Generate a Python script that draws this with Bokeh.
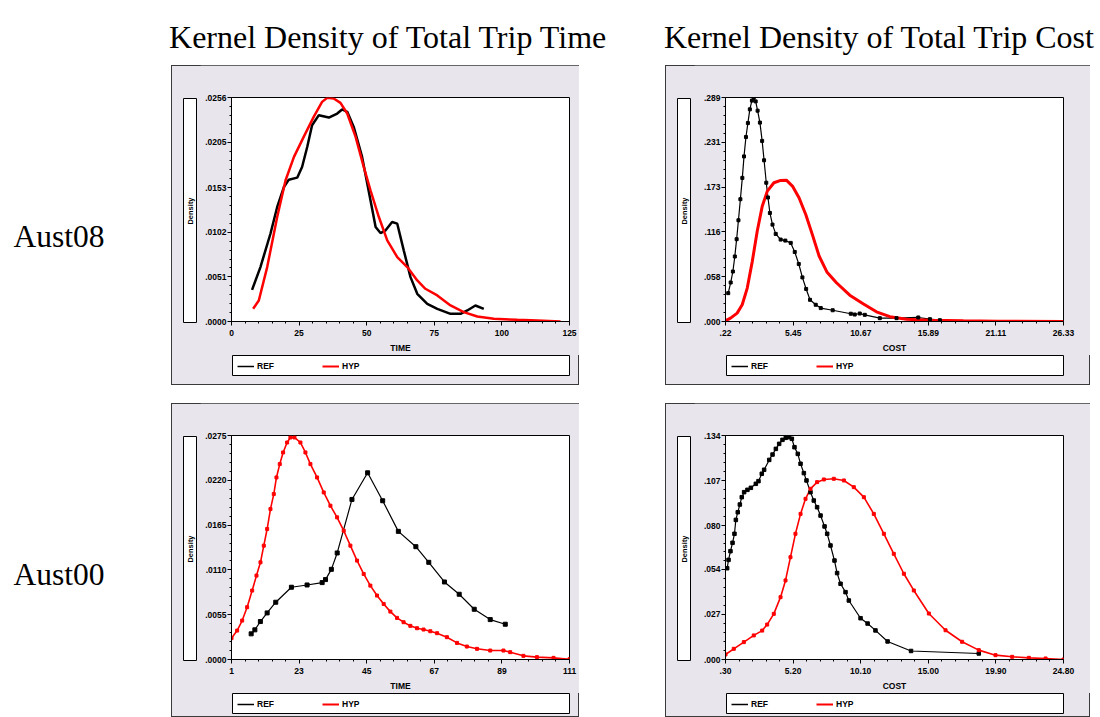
from bokeh.plotting import figure
from bokeh.models import (Range1d, FixedTicker, Label, Legend, LegendItem,
                          Spacer, CustomJSTickFormatter)
from bokeh.layouts import row, column
from bokeh.embed import file_html
from bokeh.resources import INLINE

# ---------------- texts ----------------
title_time = "Kernel Density of Total Trip Time"
title_cost = "Kernel Density of Total Trip Cost"
row_labels = ["Aust08", "Aust00"]
series_names = ["REF", "HYP"]
y_title = "Density"

# ---------------- ticks ----------------
x_ticks_08_time = [0, 25, 50, 75, 100, 125]
x_labels_08_time = ["0", "25", "50", "75", "100", "125"]
y_ticks_08_time = [0, 0.0051, 0.0102, 0.0153, 0.0205, 0.0256]
y_labels_08_time = [".0000", ".0051", ".0102", ".0153", ".0205", ".0256"]

x_ticks_08_cost = [0.22, 5.45, 10.67, 15.89, 21.11, 26.33]
x_labels_08_cost = [".22", "5.45", "10.67", "15.89", "21.11", "26.33"]
y_ticks_08_cost = [0, 0.058, 0.116, 0.173, 0.231, 0.289]
y_labels_08_cost = [".000", ".058", ".116", ".173", ".231", ".289"]

x_ticks_00_time = [1, 23, 45, 67, 89, 111]
x_labels_00_time = ["1", "23", "45", "67", "89", "111"]
y_ticks_00_time = [0, 0.0055, 0.0110, 0.0165, 0.0220, 0.0275]
y_labels_00_time = [".0000", ".0055", ".0110", ".0165", ".0220", ".0275"]

x_ticks_00_cost = [0.30, 5.20, 10.10, 15.00, 19.90, 24.80]
x_labels_00_cost = [".30", "5.20", "10.10", "15.00", "19.90", "24.80"]
y_ticks_00_cost = [0, 0.027, 0.054, 0.080, 0.107, 0.134]
y_labels_00_cost = [".000", ".027", ".054", ".080", ".107", ".134"]

# ---------------- series ----------------
ref08_time_x = [7.6, 10.7, 14.4, 16.9, 19.4, 21.2, 24.3, 26.1, 28.0, 29.8, 32.3, 36.0, 39.1,
                40.9, 42.8, 45.2, 48.3, 51.4, 53.3, 55.1, 57.0, 59.4, 61.3, 63.7, 66.2, 68.7,
                72.4, 76.1, 81.0, 84.7, 87.2, 90.2, 93.3]
ref08_time_y = [.00362, .00622, .01003, .01309, .01537, .01621, .01644, .01766, .01995, .02243,
                .02358, .02331, .02377, .02423, .02396, .02224, .01881, .01385, .01080, .01011,
                .01042, .01137, .01118, .00813, .00507, .00317, .00202, .00145, .00088, .00088,
                .00126, .00183, .00145]
hyp08_time_x = [8.0, 10.1, 13.2, 16.9, 20.0, 23.1, 26.7, 30.4, 33.5, 35.4, 37.8, 40.3, 42.8,
                45.9, 48.9, 51.4, 54.5, 57.6, 61.3, 65.0, 68.7, 71.7, 76.1, 81.0, 85.9, 90.9,
                97.0, 105.7, 113.1, 121.7]
hyp08_time_y = [.00145, .00240, .00622, .01194, .01614, .01881, .02110, .02339, .02510, .02556,
                .02548, .02499, .02377, .02110, .01767, .01500, .01194, .00927, .00736, .00622,
                .00469, .00374, .00298, .00183, .00107, .00057, .00031, .00019, .00011, .0]

ref08_cost_x = [.43, .62, .79, .94, 1.08, 1.22, 1.37, 1.52, 1.65, 1.80, 1.95, 2.10, 2.26, 2.40,
                2.55, 2.70, 2.88, 3.05, 3.20, 3.37, 3.50, 3.65, 3.85, 4.10, 4.48, 4.84, 5.26,
                5.57, 5.88, 6.16, 6.45, 6.75, 7.19, 7.58, 8.50, 9.90, 10.20, 10.59, 10.98,
                12.14, 13.43, 15.11, 16.01, 16.78]
ref08_cost_y = [.0366, .0503, .0645, .0839, .1062, .1306, .1578, .1853, .2130, .2380, .2560,
                .2737, .2850, .2890, .2840, .2720, .2566, .2330, .2080, .1790, .1600, .1400,
                .1250, .1130, .1057, .1044, .1014, .0897, .0742, .0569, .0420, .0280, .0216,
                .0173, .0145, .0100, .0090, .0103, .0086, .0043, .0043, .0052, .0030, .0017]
hyp08_cost_x = [.22, .61, 1.12, 1.51, 1.90, 2.29, 2.67, 3.06, 3.45, 3.96, 4.48, 4.92, 5.39,
                5.90, 6.42, 6.93, 7.45, 8.05, 8.79, 9.82, 10.85, 11.88, 12.92, 14.20, 16.00,
                18.60, 21.20, 26.33]
hyp08_cost_y = [.0009, .0043, .0108, .0216, .0431, .0776, .1165, .1488, .1682, .1790, .1820,
                .1823, .1747, .1596, .1380, .1121, .0845, .0640, .0500, .0340, .0230, .0125,
                .0062, .0030, .0017, .0009, .0004, .0]

ref00_time_x = [7.4, 8.6, 10.4, 12.6, 15.4, 20.5, 25.6, 30.5, 31.6, 33.5, 35.4, 40.2, 45.3,
                50.2, 55.3, 61.0, 65.2, 70.3, 75.1, 80.0, 85.2, 90.1]
ref00_time_y = [.00315, .00364, .00466, .00572, .00703, .00887, .00915, .00944, .00981, .01107,
                .01308, .01965, .02292, .01949, .01573, .01385, .01193, .00952, .00801, .00617,
                .00490, .00433]
hyp00_time_x = [1.0, 2.84, 4.47, 6.09, 7.72, 9.13, 10.43, 11.51, 12.6, 13.68, 14.76, 15.63,
                16.71, 17.8, 19.1, 20.18, 21.48, 23.43, 25.06, 26.68, 28.85, 31.02, 33.19,
                35.36, 37.52, 39.69, 41.86, 44.02, 46.19, 48.36, 50.53, 52.7, 54.87, 57.0,
                59.2, 61.37, 63.5, 65.7, 67.9, 71.1, 74.4, 77.6, 80.9, 85.2, 89.5, 91.7, 96.0,
                100.4, 105.8, 111.0]
hyp00_time_y = [.00262, .00355, .00478, .00642, .00846, .01030, .01193, .01398, .01602, .01847,
                .02031, .02235, .02399, .02542, .02664, .02726, .02726, .02664, .02542, .02399,
                .02235, .02051, .01888, .01745, .01581, .01398, .01214, .01050, .00907, .00785,
                .00682, .00588, .00511, .00458, .00413, .00384, .00368, .00347, .00323, .00274,
                .00204, .00159, .00131, .00110, .00110, .00090, .00045, .00029, .00020, .00004]

ref00_cost_x = [.42, .52, .66, .81, .95, 1.05, 1.19, 1.34, 1.48, 1.65, 1.89, 2.14, 2.50, 2.69,
                2.93, 3.10, 3.47, 3.71, 3.95, 4.19, 4.43, 4.67, 4.91, 5.11, 5.30, 5.54, 5.74,
                5.98, 6.17, 6.46, 6.70, 6.94, 7.19, 7.48, 7.67, 7.91, 8.20, 8.39, 8.64, 9.00,
                9.24, 10.09, 10.60, 11.17, 12.05, 13.75, 18.66]
ref00_cost_y = [.0546, .0596, .0648, .0698, .0752, .0835, .0881, .0927, .0971, .1001, .1015,
                .1027, .1051, .1067, .1111, .1135, .1194, .1226, .1260, .1290, .1314, .1326,
                .1330, .1320, .1270, .1230, .1171, .1115, .1071, .1001, .0951, .0911, .0861,
                .0796, .0752, .0682, .0592, .0517, .0453, .0403, .0353, .0247, .0215, .0174,
                .0108, .0051, .0036]
hyp00_cost_x = [.30, .90, 1.63, 2.35, 2.96, 3.32, 3.80, 4.29, 4.65, 5.01, 5.37, 5.74, 6.10,
                6.46, 6.94, 7.43, 8.15, 8.88, 9.60, 10.33, 11.05, 11.78, 12.50, 13.23, 13.95,
                15.04, 16.25, 17.45, 18.66, 19.87, 21.08, 22.29, 23.50, 24.80]
hyp00_cost_y = [.0030, .0064, .0104, .0144, .0173, .0209, .0273, .0373, .0473, .0612, .0752,
                .0871, .0961, .1021, .1061, .1077, .1081, .1071, .1031, .0971, .0871, .0752,
                .0632, .0513, .0413, .0275, .0175, .0106, .0056, .0026, .0016, .0010, .0006,
                .0]

# ---------------- styling ----------------
PANEL_BG = "#E8E6EC"
PANEL_EDGE = "#3A3A3A"
SANS = "Liberation Sans"
SERIF = "Liberation Serif"
RED = "#FF0000"
BLACK = "#000000"
FRAME_W, FRAME_H = 338, 224
MAIN_H = 290          # top border 32 + frame 224 + axis area 34


def fmt(tick_vals, tick_texts):
    return CustomJSTickFormatter(args=dict(tv=list(tick_vals), tl=list(tick_texts)), code="""
        let best = 0, bd = Infinity;
        for (let i = 0; i < tv.length; i++) {
            const d = Math.abs(tv[i] - tick);
            if (d < bd) { bd = d; best = i; }
        }
        return tl[best];
    """)


def minors(t):
    out = []
    for a, b in zip(t[:-1], t[1:]):
        out += [a + k * (b - a) / 5 for k in range(1, 5)]
    return out


def bare(w, h, xr=(0, 1), yr=(0, 1), outline=None, bg="white"):
    f = figure(width=w, height=h, x_range=Range1d(*xr), y_range=Range1d(*yr),
               output_backend="svg", toolbar_location=None, min_border=0,
               x_axis_location=None, y_axis_location=None,
               outline_line_color=outline, outline_line_width=1,
               background_fill_color=bg, border_fill_color=bg)
    f.grid.visible = False
    return f


def panel(width, height, xt, xl, yt, yl, xlabel, ref, hyp, style):
    right_b = width - 60 - FRAME_W
    p = figure(width=width - 29, height=MAIN_H,
               x_range=Range1d(xt[0], xt[-1]), y_range=Range1d(0, yt[-1]),
               min_border_left=31, min_border_right=right_b,
               min_border_top=32, min_border_bottom=MAIN_H - 32 - FRAME_H,
               output_backend="svg", toolbar_location=None,
               background_fill_color="white", border_fill_color=PANEL_BG,
               outline_line_color="black", outline_line_width=1)
    p.grid.visible = False
    for ax, t, l in ((p.xaxis[0], xt, xl), (p.yaxis[0], yt, yl)):
        ax.ticker = FixedTicker(ticks=list(t), minor_ticks=minors(list(t)))
        ax.formatter = fmt(t, l)
        ax.major_label_text_font = SANS
        ax.major_label_text_font_size = "8.5px"
        ax.major_label_text_font_style = "bold"
        ax.major_label_text_color = "black"
        ax.major_tick_in = 0
        ax.major_tick_out = 4
        ax.minor_tick_in = 0
        ax.minor_tick_out = 2
        ax.axis_line_color = "black"
        ax.major_tick_line_color = "black"
        ax.minor_tick_line_color = "black"
    p.yaxis.major_label_standoff = 1
    p.xaxis.major_label_standoff = 4
    p.xaxis.axis_label = xlabel
    p.xaxis.axis_label_text_font = SANS
    p.xaxis.axis_label_text_font_size = "8.5px"
    p.xaxis.axis_label_text_font_style = "bold"
    p.xaxis.axis_label_text_color = "black"
    p.xaxis.axis_label_standoff = 4

    rx, ry = ref
    hx, hy = hyp
    p.line(rx, ry, color=BLACK, line_width=style["ref_w"])
    p.line(hx, hy, color=RED, line_width=style["hyp_w"])
    if style.get("ref_m"):
        p.scatter(rx, ry, marker="square", size=style["ref_m"], color=BLACK)
    if style.get("hyp_m"):
        p.scatter(hx, hy, marker="square", size=style["hyp_m"], color=RED)

    # boxed "Density" label
    dens = bare(14, 225, (0, 14), (0, 225), outline="black")
    dens.add_layout(Label(x=7, y=112.5, text=y_title, angle=90, angle_units="deg",
                          text_align="center", text_baseline="middle", text_color="black",
                          text_font=SANS, text_font_size="7.5px", text_font_style="bold"))

    # boxed legend (proxy renderers share the same series, kept out of view)
    leg = bare(FRAME_W, 21, (-3, -2), (0, 1), outline="black")
    r_px = leg.line(rx, ry, color=BLACK, line_width=1.5)
    h_px = leg.line(hx, hy, color=RED, line_width=2)
    legend = Legend(items=[LegendItem(label=series_names[0], renderers=[r_px]),
                           LegendItem(label=series_names[1], renderers=[h_px])],
                    location=(5, 5), orientation="horizontal",
                    glyph_width=17, glyph_height=10, label_height=10,
                    label_standoff=3, label_width=65, spacing=0,
                    padding=0, margin=0,
                    border_line_alpha=0, background_fill_alpha=0,
                    label_text_font=SANS, label_text_font_size="8.5px",
                    label_text_font_style="bold", label_text_color="black",
                    label_text_baseline="middle")
    leg.add_layout(legend)

    body = row(Spacer(width=12, height=MAIN_H),
               column(Spacer(width=14, height=33), dens),
               Spacer(width=3, height=MAIN_H),
               p)
    return column(body,
                  row(Spacer(width=61, height=21), leg),
                  Spacer(width=width, height=height - MAIN_H - 21),
                  styles={"background-color": PANEL_BG,
                          "outline": "1px solid " + PANEL_EDGE,
                          "outline-offset": "-1px"})


p1 = panel(408, 320, x_ticks_08_time, x_labels_08_time, y_ticks_08_time, y_labels_08_time,
           "TIME", (ref08_time_x, ref08_time_y), (hyp08_time_x, hyp08_time_y),
           dict(ref_w=2.5, hyp_w=2.5))
p2 = panel(425, 320, x_ticks_08_cost, x_labels_08_cost, y_ticks_08_cost, y_labels_08_cost,
           "COST", (ref08_cost_x, ref08_cost_y), (hyp08_cost_x, hyp08_cost_y),
           dict(ref_w=1.2, hyp_w=3, ref_m=3))
p3 = panel(408, 314, x_ticks_00_time, x_labels_00_time, y_ticks_00_time, y_labels_00_time,
           "TIME", (ref00_time_x, ref00_time_y), (hyp00_time_x, hyp00_time_y),
           dict(ref_w=1.2, hyp_w=1.6, ref_m=4, hyp_m=3))
p4 = panel(425, 314, x_ticks_00_cost, x_labels_00_cost, y_ticks_00_cost, y_labels_00_cost,
           "COST", (ref00_cost_x, ref00_cost_y), (hyp00_cost_x, hyp00_cost_y),
           dict(ref_w=1.2, hyp_w=1.6, ref_m=3.5, hyp_m=3))

hdr = bare(1100, 65, (0, 1100), (65, 0))
hdr.add_layout(Label(x=388, y=36, text=title_time, text_align="center", text_color="black",
                     text_baseline="alphabetic", text_font=SERIF, text_font_size="32px"))
hdr.add_layout(Label(x=879, y=36, text=title_cost, text_align="center", text_color="black",
                     text_baseline="alphabetic", text_font=SERIF, text_font_size="32px"))

side = bare(171, 652, (0, 171), (652, 0))
side.add_layout(Label(x=13, y=171, text=row_labels[0], text_align="left", text_color="black",
                      text_baseline="alphabetic", text_font=SERIF, text_font_size="31.5px"))
side.add_layout(Label(x=13, y=509, text=row_labels[1], text_align="left", text_color="black",
                      text_baseline="alphabetic", text_font=SERIF, text_font_size="31.5px"))

grid = column(row(p1, Spacer(width=86, height=320), p2),
              Spacer(width=919, height=18),
              row(p3, Spacer(width=86, height=314), p4))
layout = column(hdr, row(side, grid))

open("out.html", "w").write(file_html(layout, INLINE))
